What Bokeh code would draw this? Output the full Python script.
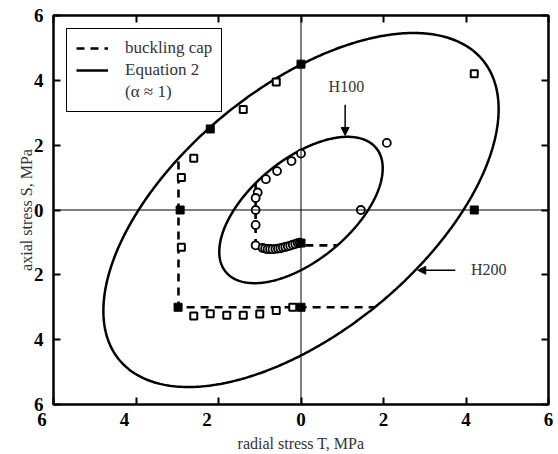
import numpy as np
from bokeh.plotting import figure
from bokeh.models import (LinearAxis, Range1d, FixedTicker, CustomJSTickFormatter, Legend,
                          LegendItem, Arrow, NormalHead, Label, Span)
from bokeh.embed import file_html
from bokeh.resources import INLINE

# ---------------- data ----------------
tick_values = [-6, -4, -2, 0, 2, 4, 6]

# H200 test points (open squares)
h200_T = [4.2, -0.6, -1.4, -2.6, -2.9, -2.9, -2.6, -2.2, -1.8, -1.4, -1.0, -0.6, -0.2]
h200_S = [4.2, 3.95, 3.1, 1.6, 1.0, -1.15, -3.27, -3.2, -3.25, -3.25, -3.21, -3.1, -3.0]

# model points (filled squares)
model_T = [0.0, -2.2, -2.93, -2.98, 0.0, 4.2, 0.0]
model_S = [4.5, 2.5, 0.0, -3.0, -3.0, 0.0, -1.02]

# H100 test points (open circles)
h100_T = [2.08, 1.45, 0.0, -0.23, -0.58, -0.85, -1.05, -1.1, -1.1, -1.1, -1.1,
          -0.93, -0.87, -0.81, -0.75, -0.69, -0.62, -0.56, -0.5, -0.44, -0.38,
          -0.32, -0.26, -0.2, -0.14, -0.08, -0.03]
h100_S = [2.07, 0.0, 1.74, 1.51, 1.2, 0.95, 0.54, 0.37, 0.0, -0.46, -1.09,
          -1.17, -1.19, -1.21, -1.21, -1.21, -1.2, -1.19, -1.18, -1.16, -1.14,
          -1.12, -1.1, -1.07, -1.05, -1.02, -1.01]

# Equation 2:  T^2 - alpha*T*S + b*S^2 = level
curve_names = ["H100", "H200"]
curve_level = [2.65, 15.5]
alpha = 1.0
coef_S2 = 0.77

# buckling caps
cap_T = [[-1.1, -1.1, 0.88], [-2.97, -2.97, 1.78]]
cap_S = [[0.83, -1.09, -1.09], [1.5, -3.0, -3.0]]

# annotations
ann_text = ["H100", "H200"]
ann_text_T = [1.1, 4.55]
ann_text_S = [3.8, -1.83]
arrow_start_T = [1.07, 3.74]
arrow_start_S = [3.25, -1.86]
arrow_end_T = [1.07, 2.83]
arrow_end_S = [2.3, -1.86]

SERIF = "Liberation Serif"
GREY = "#333333"

# ---------------- figure ----------------
p = figure(width=558, height=454, x_range=Range1d(-6, 6), y_range=Range1d(-6, 6),
           output_backend="svg", toolbar_location=None,
           min_border_left=53, min_border_right=10, min_border_top=15, min_border_bottom=47,
           x_axis_label="radial stress T, MPa", y_axis_label="axial stress S, MPa")
p.grid.visible = False
p.outline_line_color = "black"
p.outline_line_width = 2.5
p.background_fill_color = "white"
p.border_fill_color = "white"

p.add_layout(LinearAxis(), "above")
p.add_layout(LinearAxis(), "right")

xfmt = CustomJSTickFormatter(code=r"""
return tick < 0 ? Math.abs(tick).toString() + '\u2003\u2009' : Math.abs(tick).toString();
""")
yfmt = CustomJSTickFormatter(code="return Math.abs(tick).toString();")
nofmt = CustomJSTickFormatter(code="return '';")

for ax in p.axis:
    ax.ticker = FixedTicker(ticks=tick_values)
    ax.axis_line_color = None
    ax.major_tick_in = 7
    ax.major_tick_out = 0
    ax.major_tick_line_width = 2
    ax.major_tick_line_color = "black"
    ax.minor_tick_line_color = None
    ax.major_label_text_font = SERIF
    ax.major_label_text_font_style = "bold"
    ax.major_label_text_font_size = "19px"
    ax.major_label_text_color = "black"
    ax.axis_label_text_font = SERIF
    ax.axis_label_text_font_style = "normal"
    ax.axis_label_text_font_size = "16px"
    ax.axis_label_text_color = GREY

bottom_ax = p.below[0]
left_ax = p.left[0]
bottom_ax.formatter = xfmt
left_ax.formatter = yfmt
bottom_ax.major_label_standoff = 4
left_ax.major_label_standoff = 10
bottom_ax.axis_label_standoff = 2
left_ax.axis_label_standoff = -4
p.above[0].formatter = nofmt
p.right[0].formatter = nofmt

p.add_layout(Span(location=0, dimension="width", line_color="black", line_width=1))
p.add_layout(Span(location=0, dimension="height", line_color="black", line_width=1))

# Equation 2 curves
theta = np.linspace(0, 2 * np.pi, 721)
cT, sT = np.cos(theta), np.sin(theta)
denom = cT ** 2 - alpha * cT * sT + coef_S2 * sT ** 2
xs, ys = [], []
for lev in curve_level:
    r = np.sqrt(lev / denom)
    xs.append(list(r * cT))
    ys.append(list(r * sT))
eq_r = p.multi_line(xs, ys, line_color="black", line_width=2.5)

# buckling caps
cap_r = p.multi_line(cap_T, cap_S, line_color="black", line_width=2.6, line_dash="8 6")

# markers
p.scatter(h200_T, h200_S, marker="square", size=7, fill_color="white",
          line_color="black", line_width=2)
p.scatter(h100_T, h100_S, marker="circle", size=8, fill_color="white",
          line_color="black", line_width=1.8)
p.scatter(model_T, model_S, marker="square", size=8, fill_color="black",
          line_color="black", line_width=1)

# annotations
for i in range(len(ann_text)):
    p.add_layout(Label(x=ann_text_T[i], y=ann_text_S[i], text=ann_text[i],
                       text_align="center", text_baseline="middle",
                       text_font=SERIF, text_font_size="16px", text_color=GREY))
    p.add_layout(Arrow(end=NormalHead(size=8, fill_color="black", line_color="black"),
                       x_start=arrow_start_T[i], y_start=arrow_start_S[i],
                       x_end=arrow_end_T[i], y_end=arrow_end_S[i],
                       line_color="black", line_width=1.5))

# legend
dummy = p.line([], [], line_alpha=0)
legend = Legend(items=[LegendItem(label="buckling cap", renderers=[cap_r]),
                       LegendItem(label="Equation 2", renderers=[eq_r]),
                       LegendItem(label="(α ≈ 1)", renderers=[dummy])],
                location="top_left", margin=13, padding=9, spacing=2,
                label_standoff=17, glyph_width=32, glyph_height=18, label_height=18,
                border_line_color="black", border_line_width=1, border_line_alpha=1,
                background_fill_color="white", background_fill_alpha=1,
                label_text_font=SERIF, label_text_font_size="17px",
                label_text_color=GREY)
p.add_layout(legend)

open("out.html", "w").write(file_html(p, INLINE))
